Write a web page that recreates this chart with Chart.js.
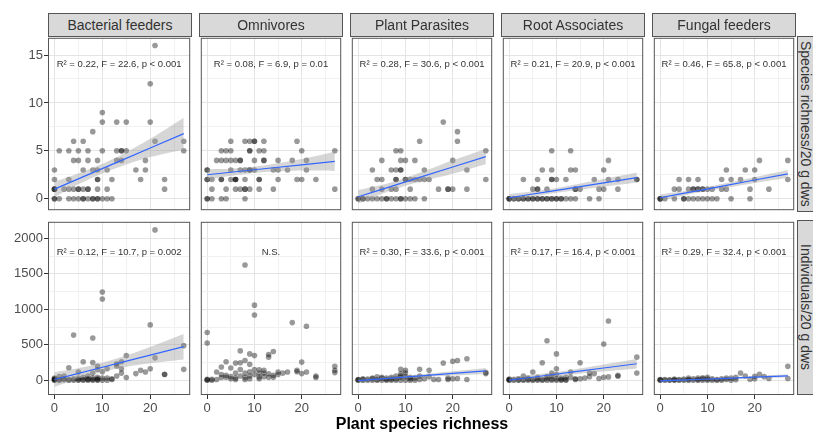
<!DOCTYPE html>
<html><head><meta charset="utf-8">
<script src="https://cdn.jsdelivr.net/npm/chart.js@4/dist/chart.umd.min.js"></script>
<style>
html,body{margin:0;padding:0;background:#fff;}
#wrap{position:relative;width:813px;height:432px;overflow:hidden;font-family:"Liberation Sans",Arial,sans-serif;background:#fff;}
#wrap canvas{position:absolute;}
.strip{position:absolute;background:#d9d9d9;border:1px solid #555;box-sizing:border-box;color:#333;font-size:14px;display:flex;align-items:center;justify-content:center;white-space:nowrap;overflow:hidden;}
.rstrip{writing-mode:vertical-rl;}
#xtitle{position:absolute;left:48px;width:748px;top:415px;line-height:18px;text-align:center;font-weight:bold;font-size:16px;color:#000;}
</style></head>
<body><div id="wrap"></div>
<script>
// ---------- data ----------
const groups = ["Bacterial feeders","Omnivores","Plant Parasites","Root Associates","Fungal feeders"];
const rowLabels = ["Species richness/20 g dws","Individuals/20 g dws"];
const xTitle = "Plant species richness";

const xGridTicks = [0,5,10,15,20,25];
const xLabelTicks = [0,10,20];
const yGridRich = [0,2.5,5,7.5,10,12.5,15];
const yLabelRich = [0,5,10,15];
const yGridInd = [0,250,500,750,1000,1250,1500,1750,2000];
const yLabelInd = [0,500,1000,1500,2000];

const statsRich = [
  "R² = 0.22, F = 22.6, p < 0.001",
  "R² = 0.08, F = 6.9, p = 0.01",
  "R² = 0.28, F = 30.6, p < 0.001",
  "R² = 0.21, F = 20.9, p < 0.001",
  "R² = 0.46, F = 65.8, p < 0.001"
];
const statsInd = [
  "R² = 0.12, F = 10.7, p = 0.002",
  "N.S.",
  "R² = 0.30, F = 33.6, p < 0.001",
  "R² = 0.17, F = 16.4, p < 0.001",
  "R² = 0.29, F = 32.4, p < 0.001"
];

// species richness points [plant richness, value]
const richBacterial = [[21,16],[20,12],[20,8],[10,9],[10,8],[13,8],[15,8],[8,7],[4,6],[6,6],[21,6],[27,6],[27,5],[1,5],[3,5],[5,5],[7,5],[10,5],[13,5],[14,5],[14,5],[15,5],[4,4],[5,4],[7,4],[9,4],[13,4],[14,4],[19,4],[0,3],[6,3],[8,3],[9,3],[11,3],[17,3],[19,3],[0,2],[3,2],[9,2],[9,2],[12,2],[18,2],[23,2],[23,1],[0,1],[0,1],[0,1],[2,1],[3,1],[4,1],[5,1],[5,1],[6,1],[7,1],[7,1],[9,1],[11,1],[0,0],[0,0],[1,0],[3,0],[4,0],[5,0],[6,0],[6,0],[7,0],[8,0],[8,0],[9,0],[9,0],[10,0],[11,0],[12,0]];
const richOmnivores = [[5,6],[8,6],[9,6],[10,6],[10,6],[12,6],[19,6],[3,5],[4,5],[5,5],[9,5],[9,5],[11,5],[12,5],[20,5],[27,5],[2,4],[3,4],[4,4],[5,4],[6,4],[7,4],[7,4],[10,4],[12,4],[12,4],[15,4],[18,4],[21,4],[0,3],[0,3],[5,3],[7,3],[8,3],[9,3],[9,3],[10,3],[14,3],[15,3],[17,3],[21,3],[0,2],[0,2],[1,2],[3,2],[3,2],[5,2],[6,2],[6,2],[6,2],[8,2],[11,2],[11,2],[15,2],[19,2],[20,2],[23,2],[1,1],[4,1],[6,1],[7,1],[8,1],[8,1],[9,1],[11,1],[14,1],[27,1],[0,0],[0,0],[1,0],[3,0],[4,0],[8,0]];
const richParasites = [[18,8],[21,7],[21,6],[13,6],[8,5],[9,5],[27,5],[5,4],[9,4],[10,4],[12,4],[20,4],[3,3],[7,3],[8,3],[9,3],[9,3],[14,3],[23,3],[4,2],[5,2],[8,2],[8,2],[10,2],[10,2],[11,2],[12,2],[13,2],[14,2],[15,2],[27,2],[3,1],[5,1],[7,1],[8,1],[11,1],[17,1],[19,1],[19,1],[20,1],[23,1],[0,0],[0,0],[1,0],[1,0],[2,0],[3,0],[4,0],[5,0],[6,0],[6,0],[7,0],[8,0],[9,0],[9,0],[10,0],[11,0],[12,0],[14,0]];
const richRoot = [[9,5],[13,5],[21,4],[7,3],[9,3],[13,3],[14,3],[20,3],[3,2],[6,2],[9,2],[9,2],[10,2],[12,2],[18,2],[21,2],[23,2],[27,2],[27,2],[5,1],[6,1],[6,1],[8,1],[14,1],[14,1],[15,1],[19,1],[20,1],[23,1],[0,0],[0,0],[0,0],[1,0],[1,0],[2,0],[2,0],[3,0],[3,0],[4,0],[4,0],[5,0],[5,0],[6,0],[6,0],[7,0],[7,0],[8,0],[8,0],[9,0],[9,0],[10,0],[10,0],[11,0],[11,0],[12,0],[13,0],[14,0],[17,0],[19,0]];
const richFungal = [[21,4],[27,4],[14,3],[18,3],[20,3],[4,2],[6,2],[8,2],[13,2],[15,2],[17,2],[20,2],[27,2],[3,1],[4,1],[6,1],[7,1],[7,1],[8,1],[8,1],[9,1],[9,1],[10,1],[11,1],[13,1],[14,1],[19,1],[23,1],[0,0],[0,0],[0,0],[1,0],[3,0],[5,0],[5,0],[6,0],[7,0],[8,0],[9,0],[10,0],[11,0],[12,0],[15,0],[19,0]];

// individuals points
const indBacterial = [[21,2120],[10,1243],[10,1146],[4,636],[8,594],[20,780],[27,487],[15,348],[21,315],[6,260],[8,250],[13,232],[14,260],[3,176],[9,200],[11,162],[14,160],[20,162],[18,139],[19,116],[17,93],[23,84],[23,80],[27,153],[15,37],[5,116],[13,200],[9,150],[10,120],[8,100],[7,60],[6,40],[0,0],[0,10],[0,20],[0,30],[0,5],[1,0],[1,50],[2,20],[2,60],[3,10],[3,0],[4,20],[4,0],[5,0],[5,30],[6,0],[6,10],[7,0],[7,20],[8,0],[8,10],[8,30],[9,0],[9,20],[9,40],[10,0],[10,30],[11,0],[11,30],[12,10],[12,20],[13,60],[14,100],[1,10],[2,5],[5,10],[7,10],[9,10]];
const indOmnivores = [[8,1624],[10,1058],[10,919],[18,812],[21,761],[0,673],[0,524],[7,413],[14,404],[9,371],[10,348],[13,362],[13,325],[4,260],[6,241],[7,246],[8,278],[9,223],[20,255],[3,186],[5,172],[11,148],[12,139],[27,195],[27,139],[27,107],[19,139],[20,93],[21,116],[17,116],[15,116],[14,70],[11,46],[23,60],[23,37],[0,14],[1,14],[0,0],[0,5],[1,0],[2,116],[3,37],[4,70],[5,50],[5,20],[6,100],[6,30],[7,150],[7,60],[8,100],[8,40],[8,10],[9,60],[9,20],[10,150],[10,80],[11,100],[12,100],[12,50],[13,90],[14,40],[15,80],[16,100],[19,120],[2,10],[3,80],[4,40],[6,10],[9,120],[11,20],[13,40]];
const indParasites = [[23,302],[21,278],[20,265],[18,241],[15,139],[13,153],[9,153],[10,139],[10,102],[27,93],[27,110],[17,9],[19,9],[21,23],[23,9],[4,46],[0,0],[0,5],[0,10],[1,0],[1,10],[2,0],[2,15],[3,0],[3,20],[4,0],[4,10],[5,0],[5,25],[6,0],[6,10],[6,30],[7,0],[7,15],[8,0],[8,20],[8,60],[9,0],[9,40],[9,90],[10,0],[10,50],[11,0],[11,20],[12,0],[12,30],[13,10],[13,60],[14,20],[15,50],[16,10],[19,30],[20,20],[1,20],[3,30],[5,40],[7,40],[9,60],[11,40]];
const indRoot = [[21,835],[20,510],[8,557],[10,371],[27,325],[7,246],[15,246],[5,116],[27,102],[10,162],[13,116],[17,102],[18,93],[23,70],[23,55],[21,46],[19,23],[20,40],[3,60],[9,100],[9,60],[10,80],[11,30],[12,40],[12,10],[13,40],[14,20],[14,10],[15,20],[0,0],[0,5],[0,10],[0,15],[1,0],[1,10],[2,0],[2,5],[3,0],[3,10],[4,0],[4,15],[5,0],[5,10],[6,0],[6,15],[7,0],[7,10],[8,0],[8,20],[9,0],[9,15],[10,0],[10,20],[11,0],[11,10],[12,0],[16,30],[17,50],[2,20],[4,30],[6,40],[8,50]];
const indFungal = [[27,195],[27,23],[17,102],[21,84],[20,56],[19,14],[23,23],[16,40],[18,60],[22,50],[20,20],[15,30],[14,10],[13,20],[12,10],[0,0],[0,5],[0,10],[1,0],[1,10],[2,0],[2,5],[3,0],[3,15],[4,0],[4,10],[5,0],[5,15],[6,0],[6,30],[7,0],[7,20],[8,0],[8,30],[9,0],[9,20],[10,0],[10,15],[11,0],[11,20],[12,0],[13,0],[14,30],[15,0],[16,5],[3,5],[6,10],[9,35],[10,40],[8,10]];

const richPoints = [richBacterial, richOmnivores, richParasites, richRoot, richFungal];
const indPoints = [indBacterial, indOmnivores, indParasites, indRoot, indFungal];

// fitted lines and 95% bands, read at these plant richness values
const fitX = [0,4,9,14,20,27];
const richFit = [[1.0,1.86,2.93,4.0,5.3,6.8],[2.5,2.71,2.97,3.23,3.54,3.9],[0.2,0.82,1.6,2.38,3.31,4.4],[0.1,0.41,0.8,1.19,1.66,2.2],[0.1,0.47,0.93,1.4,1.95,2.6]];
const richLo  = [[0.2,1.26,2.43,3.4,4.35,5.15],[1.9,2.31,2.64,2.83,2.94,2.9],[-0.5,0.32,1.2,1.88,2.61,3.6],[-0.3,0.11,0.55,0.89,1.26,1.7],[-0.25,0.22,0.73,1.15,1.65,2.2]];
const richHi  = [[1.8,2.46,3.43,4.6,6.25,8.45],[3.1,3.11,3.3,3.63,4.14,4.9],[0.9,1.32,2.0,2.88,4.01,5.2],[0.5,0.71,1.05,1.49,2.06,2.7],[0.45,0.72,1.13,1.65,2.25,3.0]];
const indFit = [[10,79,165,251,354,473],null,[-5,15,40,65,95,130],[0,34,77,120,172,232],[-10,0,13,26,42,60]];
const indLo  = [[-95,-1,100,176,239,293],null,[-35,-7,22,43,65,88],[-45,-1,47,85,122,164],[-25,-12,3,14,26,38]];
const indHi  = [[115,159,230,326,469,653],null,[25,37,58,87,125,172],[45,69,107,155,222,300],[5,12,23,38,58,82]];

// ---------- drawing ----------
const FONT = '"Liberation Sans", Arial, sans-serif';
Chart.defaults.font.family = FONT;
const wrap = document.getElementById('wrap');

const panelPlugin = {
  id: 'panel',
  afterDatasetsDraw(chart, args, opts) {
    const {ctx, chartArea: a, scales} = chart;
    ctx.save();
    if (opts.text) {
      ctx.font = '9.5px ' + FONT;
      ctx.fillStyle = '#333';
      ctx.textAlign = 'center';
      ctx.textBaseline = 'middle';
      ctx.fillText(opts.text, scales.x.getPixelForValue(opts.tx), scales.y.getPixelForValue(opts.ty));
    }
    ctx.strokeStyle = '#555';
    ctx.lineWidth = 1;
    ctx.strokeRect(a.left + 0.5, a.top + 0.5, a.width - 1, a.height - 1);
    ctx.restore();
  }
};

const COL_LEFT0 = 48, COL_STEP = 151, PW = 144;
const ROW_TOP = [36, 220], ROW_H = [176, 175];
const AXIS_W = 48, AXIS_H = 22;

function xy(arr, xs) { return xs ? xs.map((x, i) => ({x, y: arr[i]})) : arr.map(p => ({x: p[0], y: p[1]})); }
function noPad(s) { s.paddingTop = 0; s.paddingBottom = 0; s.paddingLeft = 0; s.paddingRight = 0; }

function makePanel(row, col) {
  const isLeft = col === 0, isBottom = row === 1;
  const colLeft = COL_LEFT0 + col * COL_STEP;
  const cl = isLeft ? 0 : colLeft - 1;
  const ct = ROW_TOP[row] - 1;
  const cw = (isLeft ? AXIS_W : 1) + PW + 1;
  const ch = 1 + ROW_H[row] + (isBottom ? AXIS_H : 1);
  const cv = document.createElement('canvas');
  cv.width = cw; cv.height = ch;
  cv.style.left = cl + 'px'; cv.style.top = ct + 'px';
  cv.style.width = cw + 'px'; cv.style.height = ch + 'px';
  wrap.appendChild(cv);

  const pts = row === 0 ? richPoints[col] : indPoints[col];
  const fit = row === 0 ? richFit[col] : indFit[col];
  const lo = row === 0 ? richLo[col] : indLo[col];
  const hi = row === 0 ? richHi[col] : indHi[col];
  const yGrid = row === 0 ? yGridRich : yGridInd;
  const yLab = row === 0 ? yLabelRich : yLabelInd;

  const datasets = [{
    data: xy(pts), showLine: false, pointRadius: 2.8, pointHoverRadius: 2.8,
    pointBackgroundColor: 'rgba(0,0,0,0.4)', pointBorderWidth: 0, order: 3
  }];
  if (fit) {
    datasets.push({data: xy(lo, fitX), borderWidth: 0, pointRadius: 0, fill: false, tension: 0.4, order: 2});
    datasets.push({data: xy(hi, fitX), borderWidth: 0, pointRadius: 0, fill: '-1', backgroundColor: 'rgba(153,153,153,0.4)', tension: 0.4, order: 2});
    datasets.push({data: xy(fit, fitX), borderColor: '#3366FF', borderWidth: 1.2, pointRadius: 0, fill: false, order: 0});
  }

  new Chart(cv, {
    type: 'line',
    data: {datasets},
    options: {
      responsive: false, animation: false, devicePixelRatio: 1,
      layout: {padding: {left: isLeft ? 0 : 1, right: 1, top: 1, bottom: isBottom ? 0 : 1}},
      plugins: {
        legend: {display: false}, tooltip: {enabled: false},
        panel: {text: row === 0 ? statsRich[col] : statsInd[col], tx: 13.5, ty: row === 0 ? 14 : 1800}
      },
      scales: {
        x: {
          type: 'linear', min: -1.35, max: 28.35,
          afterBuildTicks: s => { s.ticks = xGridTicks.map(v => ({value: v})); },
          afterFit: s => { s.height = isBottom ? AXIS_H : 0; noPad(s); },
          border: {display: false},
          grid: {
            color: c => xLabelTicks.includes(c.tick && c.tick.value) ? '#e4e4e4' : '#f1f1f1',
            lineWidth: 1, drawTicks: isBottom, tickLength: 4, tickWidth: 1,
            tickColor: c => xLabelTicks.includes(c.tick && c.tick.value) ? '#333' : 'rgba(0,0,0,0)'
          },
          ticks: {
            display: isBottom, autoSkip: false, maxRotation: 0, padding: 2, color: '#4d4d4d',
            font: {size: 13, family: FONT},
            callback: v => xLabelTicks.includes(v) ? String(v) : ''
          }
        },
        y: {
          type: 'linear', min: row === 0 ? -1.2 : -209, max: row === 0 ? 16.8 : 2234,
          afterBuildTicks: s => { s.ticks = yGrid.map(v => ({value: v})); },
          afterFit: s => { s.width = isLeft ? AXIS_W : 0; noPad(s); },
          border: {display: false},
          grid: {
            color: c => yLab.includes(c.tick && c.tick.value) ? '#e4e4e4' : '#f1f1f1',
            lineWidth: 1, drawTicks: isLeft, tickLength: 4, tickWidth: 1,
            tickColor: c => yLab.includes(c.tick && c.tick.value) ? '#333' : 'rgba(0,0,0,0)'
          },
          ticks: {
            display: isLeft, autoSkip: false, padding: 1, color: '#4d4d4d',
            font: {size: 13, family: FONT},
            callback: v => yLab.includes(v) ? String(v) : ''
          }
        }
      }
    },
    plugins: [panelPlugin]
  });
}

for (let r = 0; r < 2; r++) for (let c = 0; c < 5; c++) makePanel(r, c);

// strips
groups.forEach((g, c) => {
  const d = document.createElement('div');
  d.className = 'strip';
  d.style.left = (COL_LEFT0 + c * COL_STEP) + 'px';
  d.style.top = '13px'; d.style.width = PW + 'px'; d.style.height = '24px';
  d.textContent = g;
  wrap.appendChild(d);
});
rowLabels.forEach((t, r) => {
  const d = document.createElement('div');
  d.className = 'strip rstrip';
  d.style.left = '797px'; d.style.width = '17px';
  d.style.top = ROW_TOP[r] + 'px'; d.style.height = ROW_H[r] + 'px';
  d.textContent = t;
  wrap.appendChild(d);
});
const xt = document.createElement('div');
xt.id = 'xtitle'; xt.textContent = xTitle;
wrap.appendChild(xt);
</script>
</body></html>
